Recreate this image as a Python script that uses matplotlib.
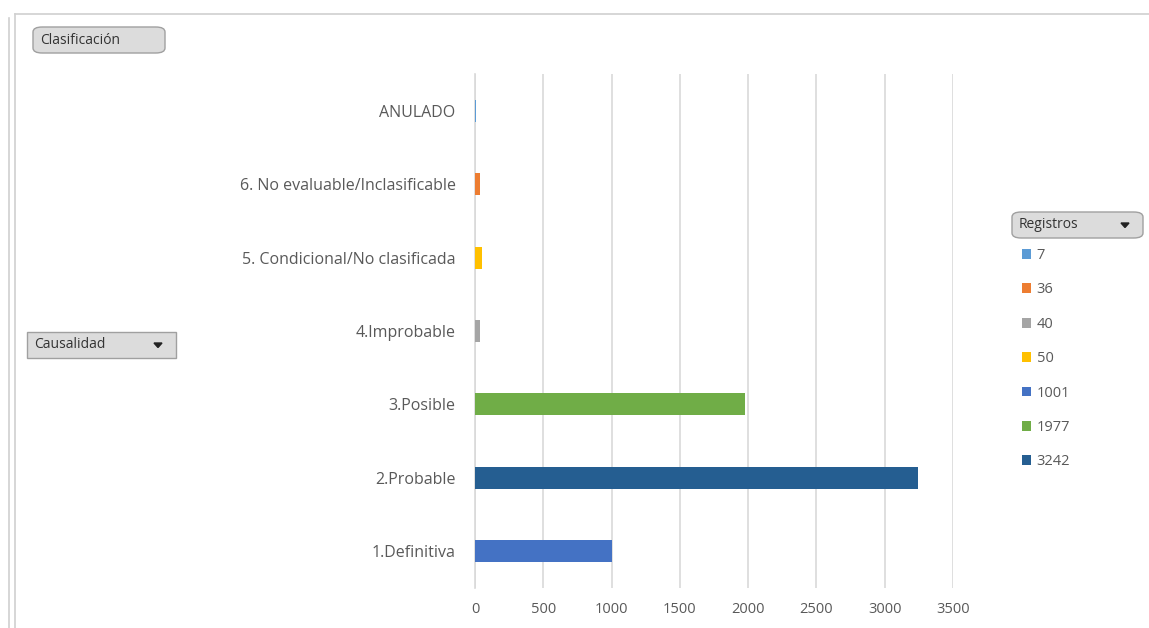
"""Pivot-chart style horizontal bars: Causalidad vs Registros."""
import matplotlib

matplotlib.use("Agg")
import matplotlib.pyplot as plt  # noqa: E402
from matplotlib.patches import FancyBboxPatch, Polygon  # noqa: E402
from matplotlib.lines import Line2D  # noqa: E402

categories = ["1.Definitiva", "2.Probable", "3.Posible", "4.Improbable",
              "5. Condicional/No clasificada",
              "6. No evaluable/Inclasificable", "ANULADO"]
registros = [1001, 3242, 1977, 40, 50, 36, 7]
colors = ["#4472c4", "#255e91", "#70ad47", "#a5a5a5", "#ffc000",
          "#ed7d31", "#5b9bd5"]
xticks = [0, 500, 1000, 1500, 2000, 2500, 3000, 3500]

_TEXT = "#595959"
_GRID = "#d9d9d9"

plt.rcParams["font.family"] = ["Open Sans", "DejaVu Sans"]

W, H = 1149, 628
fig = plt.figure(figsize=(W / 100, H / 100), dpi=100)
fig.patch.set_facecolor("white")

ax = fig.add_axes([475 / W, 1 - 588 / H, (953 - 475) / W, (588 - 74) / H])

handles = []
for i, (cat, val, col) in enumerate(zip(categories, registros, colors)):
    b = ax.barh(i, val, height=0.30, color=col, label=str(val), zorder=3)
    handles.append((val, b))

ax.set_xlim(0, 3500)
ax.set_ylim(-0.5, len(categories) - 0.5)
ax.set_xticks(xticks, [str(t) for t in xticks])
ax.set_yticks(range(len(categories)), categories)
ax.tick_params(axis="both", length=0, colors=_TEXT)
ax.tick_params(axis="y", pad=14, labelsize=11.5)
ax.tick_params(axis="x", pad=10, labelsize=10.5)
ax.grid(axis="x", color=_GRID, lw=1.2, zorder=0)
for s in ["top", "right", "bottom"]:
    ax.spines[s].set_visible(False)
ax.spines["left"].set_color(_GRID)
ax.spines["left"].set_linewidth(1.2)
ax.spines["left"].set_zorder(1)

# legend sorted by value, like the pivot chart
handles.sort(key=lambda t: t[0])
leg = fig.legend([h for _, h in handles], [str(v) for v, _ in handles],
                 loc="upper left", bbox_to_anchor=(1022 / W, 1 - 248 / H),
                 frameon=False, fontsize=10.5, labelspacing=1.33,
                 handlelength=0.65, handleheight=0.65, handletextpad=0.35,
                 borderaxespad=0, borderpad=0)
for t in leg.get_texts():
    t.set_color(_TEXT)


def button(x0, y0, x1, y1, label, arrow=False, round_=True):
    bx = FancyBboxPatch((x0 / W, 1 - y1 / H), (x1 - x0) / W, (y1 - y0) / H,
                        boxstyle="round,pad=0,rounding_size=0.008" if round_
                        else "square,pad=0",
                        transform=fig.transFigure, facecolor="#dcdcdc",
                        edgecolor="#a0a0a0", lw=1)
    fig.patches.append(bx)
    fig.text((x0 + 7) / W, 1 - (y0 + y1) / 2 / H, label, fontsize=10,
             color="#333333", va="center", ha="left")
    if arrow:
        ax_ = x1 - 18
        ay = (y0 + y1) / 2
        tri = Polygon([((ax_ - 4) / W, 1 - (ay - 2) / H),
                       ((ax_ + 4) / W, 1 - (ay - 2) / H),
                       (ax_ / W, 1 - (ay + 2.5) / H)], closed=True,
                      transform=fig.transFigure, color="#222222")
        fig.patches.append(tri)


button(33, 27, 165, 53, "Clasificación")
button(27, 332, 176, 358, "Causalidad", arrow=True, round_=False)
button(1012, 212, 1143, 238, "Registros", arrow=True)

# chart frame lines
frame = "#d0d0d0"
fig.lines.append(Line2D([15 / W, 1], [1 - 14 / H, 1 - 14 / H],
                        transform=fig.transFigure, color=frame, lw=1.2))
fig.lines.append(Line2D([15 / W, 15 / W], [0, 1 - 14 / H],
                        transform=fig.transFigure, color=frame, lw=1.2))
fig.lines.append(Line2D([9 / W, 9 / W], [0, 1 - 18 / H],
                        transform=fig.transFigure, color=frame, lw=1.2))

fig.savefig("out.png", dpi=100, facecolor="white")
